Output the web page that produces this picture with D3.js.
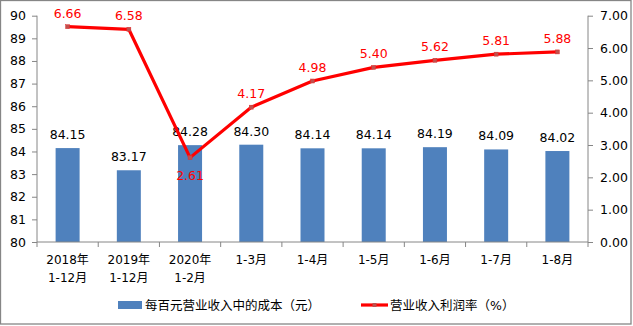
<!DOCTYPE html>
<html><head><meta charset="utf-8">
<script src="https://cdn.jsdelivr.net/npm/d3@7"></script>
<style>body{margin:0;background:#fff;} svg{display:block;}</style>
</head><body>
<svg id="c" width="633" height="326"></svg>
<script>
const categories = [["2018年","1-12月"],["2019年","1-12月"],["2020年","1-2月"],["1-3月"],["1-4月"],["1-5月"],["1-6月"],["1-7月"],["1-8月"]];
const costValues = [84.15, 83.17, 84.28, 84.30, 84.14, 84.14, 84.19, 84.09, 84.02];
const marginValues = [6.66, 6.58, 2.61, 4.17, 4.98, 5.40, 5.62, 5.81, 5.88];
const leftTicks = [80,81,82,83,84,85,86,87,88,89,90];
const rightTicks = [0,1,2,3,4,5,6,7];
const legendLabels = ["每百元营业收入中的成本（元）","营业收入利润率（%）"];

const svg = d3.select("#c");
const font = "'DejaVu Sans','Noto Sans CJK SC',sans-serif";
const axisColor = "#868686";
const L = 37, R = 588, T = 15.7, B = 242;

svg.append("rect").attr("x",0.5).attr("y",0.5).attr("width",630.5).attr("height",323.5)
  .attr("fill","#fff").attr("stroke","#868686").attr("stroke-width",1.3);

const xb = d3.scaleBand().domain(d3.range(categories.length)).range([L,R]);
const yL = d3.scaleLinear().domain([80,90]).range([B,T]);
const yR = d3.scaleLinear().domain([0,7]).range([B,T]);

// bars
svg.selectAll("rect.bar").data(costValues).join("rect").attr("class","bar")
  .attr("x",(d,i)=>xb(i)+xb.bandwidth()/2-12).attr("width",24)
  .attr("y",d=>yL(d)).attr("height",d=>B-yL(d)).attr("fill","#4F81BD");

// axes
const gl = svg.append("g").attr("transform",`translate(${L},0)`)
  .call(d3.axisLeft(yL).tickValues(leftTicks).tickSize(5).tickPadding(6).tickFormat(d3.format("d")));
const gr = svg.append("g").attr("transform",`translate(${R},0)`)
  .call(d3.axisRight(yR).tickValues(rightTicks).tickSize(5).tickPadding(7).tickFormat(d3.format(".2f")));
[gl,gr].forEach(g=>{
  g.select(".domain").attr("stroke",axisColor).attr("d", `M0,${T}V${B}`);
  g.selectAll(".tick line").attr("stroke",axisColor);
  g.selectAll("text").attr("font-family",font).attr("font-size",12.5).attr("fill","#000");
});

// bottom axis
const gb = svg.append("g");
gb.append("line").attr("x1",L).attr("x2",R).attr("y1",B).attr("y2",B).attr("stroke",axisColor);
gb.selectAll("line.t").data(d3.range(categories.length+1)).join("line").attr("class","t")
  .attr("x1",i=>L+i*xb.bandwidth()).attr("x2",i=>L+i*xb.bandwidth())
  .attr("y1",B).attr("y2",B+5).attr("stroke",axisColor);
categories.forEach((c,i)=>{
  const t = gb.append("text").attr("text-anchor","middle").attr("font-family",font).attr("font-size",12).attr("fill","#000");
  c.forEach((s,j)=>t.append("tspan").attr("x",xb(i)+xb.bandwidth()/2).attr("y",264+j*18).text(s));
});

// bar labels
svg.selectAll("text.bl").data(costValues).join("text").attr("class","bl")
  .attr("x",(d,i)=>xb(i)+xb.bandwidth()/2).attr("y",d=>yL(d)-9)
  .attr("text-anchor","middle").attr("font-family",font).attr("font-size",12.5).attr("fill","#000")
  .text(d=>d.toFixed(2));

// line
const line = d3.line().x((d,i)=>xb(i)+xb.bandwidth()/2).y(d=>yR(d));
svg.append("path").datum(marginValues).attr("d",line).attr("fill","none")
  .attr("stroke","#FF0000").attr("stroke-width",3.2).attr("stroke-linejoin","round");
svg.selectAll("rect.mk").data(marginValues).join("rect").attr("class","mk")
  .attr("x",(d,i)=>xb(i)+xb.bandwidth()/2-2).attr("y",d=>yR(d)-2).attr("width",4).attr("height",4)
  .attr("fill","#C0504D").attr("stroke","#E03030").attr("stroke-width",0.5);
svg.selectAll("text.ll").data(marginValues).join("text").attr("class","ll")
  .attr("x",(d,i)=>xb(i)+xb.bandwidth()/2).attr("y",(d,i)=> i===2 ? yR(d)+22 : yR(d)-9)
  .attr("text-anchor","middle").attr("font-family",font).attr("font-size",12.5).attr("fill","#FF0000")
  .text(d=>d.toFixed(2));

// legend
const lg = svg.append("g");
lg.append("rect").attr("x",118).attr("y",301).attr("width",24).attr("height",8).attr("fill","#4F81BD");
lg.append("text").attr("x",145).attr("y",310).attr("font-family",font).attr("font-size",12.5).attr("fill","#000").text(legendLabels[0]);
lg.append("line").attr("x1",361).attr("x2",388).attr("y1",305).attr("y2",305).attr("stroke","#FF0000").attr("stroke-width",3.2);
lg.append("rect").attr("x",372.5).attr("y",303).attr("width",4).attr("height",4).attr("fill","#C0504D");
lg.append("text").attr("x",390).attr("y",310).attr("font-family",font).attr("font-size",12.5).attr("fill","#000").text(legendLabels[1]);
</script>
</body></html>
